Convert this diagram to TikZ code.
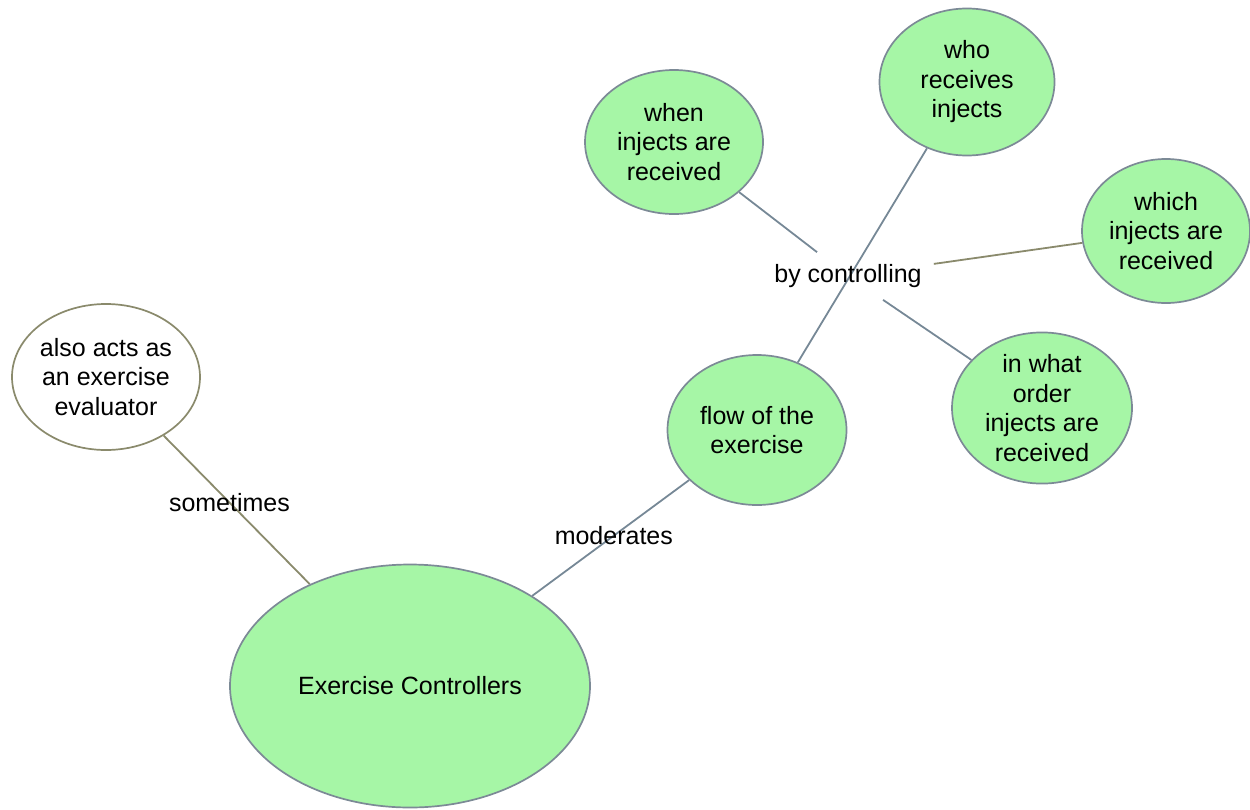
\documentclass[tikz,border=0pt]{standalone}
\usepackage{fontspec}
\setmainfont{Liberation Sans}
\usetikzlibrary{shapes.geometric,backgrounds}
\definecolor{bubble}{RGB}{166,246,166}
\definecolor{rim}{RGB}{124,138,150}
\definecolor{slate}{RGB}{118,136,150}
\definecolor{olive}{RGB}{138,138,108}
\tikzset{
  topic/.style={ellipse, draw=rim, line width=1.7pt, fill=bubble, inner sep=0pt,
    align=center, font=\fontsize{25}{29.5}\selectfont},
  aside/.style={topic, draw=olive, fill=white},
  phrase/.style={inner sep=12pt, font=\fontsize{25}{29.5}\selectfont},
  tag/.style={inner sep=0pt, font=\fontsize{25}{29.5}\selectfont},
  linkb/.style={draw=slate, line width=1.8pt},
  linko/.style={draw=olive, line width=1.8pt},
}
\begin{document}
\begin{tikzpicture}[x=1pt,y=-1pt]
\useasboundingbox (0,0) rectangle (1250,809);

\node[topic, minimum width=360pt, minimum height=243pt] (ec) at (410,686) {Exercise Controllers};
\node[aside, minimum width=188pt, minimum height=146pt] (ev) at (106,377) {also acts as\\an exercise\\evaluator};
\node[topic, minimum width=179pt, minimum height=150pt] (fl) at (757,430) {flow of the\\exercise};
\node[topic, minimum width=178pt, minimum height=144pt] (wh) at (674,142) {when\\injects are\\received};
\node[topic, minimum width=175pt, minimum height=147pt] (wo) at (967,82) {who\\receives\\injects};
\node[topic, minimum width=168pt, minimum height=144pt] (wi) at (1166,231) {which\\injects are\\received};
\node[topic, minimum width=180pt, minimum height=147pt] (or) at (1042,408) {in what\\order\\injects are\\received};
\node[phrase] (bc) at (848,276) {by controlling};

% connectors sit behind the bubbles and the link phrases
\begin{scope}[on background layer]
\draw[linko] (ec) -- node[tag, pos=0.55] (st) {sometimes} (ev);
\draw[linkb] (ec) -- node[tag, pos=0.52] (md) {moderates} (fl);
\draw[linkb] (fl) -- (wo);
\draw[linkb] (wh) -- (bc);
\draw[linko] (bc) -- (wi);
\draw[linkb] (bc) -- (or);
\end{scope}
\end{tikzpicture}
\end{document}
